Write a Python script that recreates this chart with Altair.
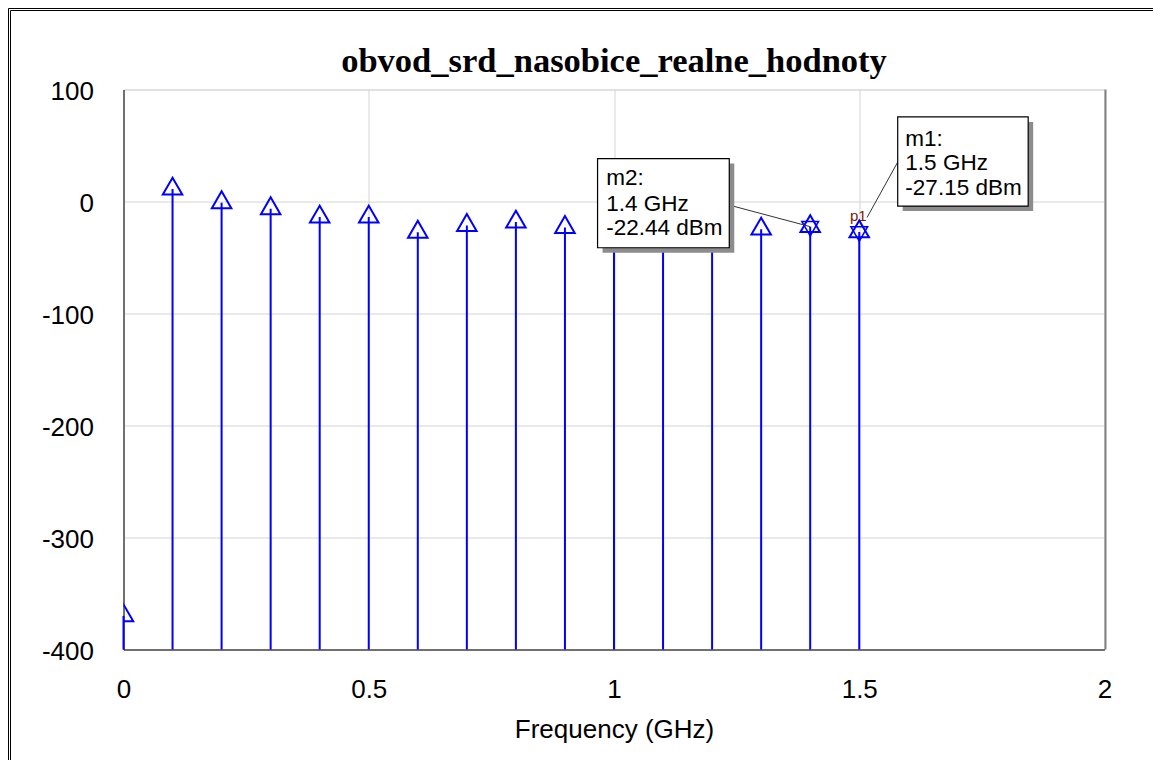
import altair as alt
import pandas as pd

# ---- data ----
freq_ghz = [0.0, 0.1, 0.2, 0.3, 0.4, 0.5, 0.6, 0.7, 0.8, 0.9, 1.0, 1.1, 1.2, 1.3, 1.4, 1.5]
power_dbm = [-370.0, 11.1, -1.1, -6.5, -13.9, -13.9, -27.4, -21.4, -18.4, -23.2,
             -22.0, -24.0, -21.0, -24.7, -22.44, -27.15]

marker_names = ["m1", "m2"]
marker_freq = [1.5, 1.4]
marker_val = [-27.15, -22.44]

x_ticks = [0, 0.5, 1, 1.5, 2]
y_ticks = [100, 0, -100, -200, -300, -400]
x_domain = [0, 2]
y_domain = [-400, 100]

title_text = "obvod_srd_nasobice_realne_hodnoty"
x_title = "Frequency (GHz)"

# annotation box placement (data units)
box_x1 = [1.5784, 0.9665]
box_x2 = [1.8444, 1.2350]
box_top = [75.5, 38.3]
box_bot = [-4.1, -41.3]
# leader line start on box edge (data units)
lead_x = [1.5784, 1.2374]
lead_y = [35.2, -3.5]
lead_end_x = [1.516, 1.4]
lead_end_y = [-14.2, -22.44]
text_x = [1.594, 0.9842]
text_lines_y = [[56.2, 34.3, 12.3], [20.7, -2.6, -24.1]]

W, H = 981, 560
BLUE = "#0000ff"
FONT = "Liberation Sans"

df = pd.DataFrame({"f": freq_ghz, "p": power_dbm})
df["floor"] = y_domain[0]

mk = pd.DataFrame({"name": marker_names, "f": marker_freq, "p": marker_val})

boxes = pd.DataFrame({"x1": box_x1, "x2": box_x2, "yt": box_top, "yb": box_bot,
                      "lx": lead_x, "ly": lead_y, "ex": lead_end_x, "ey": lead_end_y})

rows = []
for i, n in enumerate(marker_names):
    lines = [f"{n}:", f"{marker_freq[i]:g} GHz", f"{marker_val[i]:.2f} dBm"]
    for j, t in enumerate(lines):
        rows.append({"x": text_x[i], "y": text_lines_y[i][j], "t": t})
txt = pd.DataFrame(rows)

xs = alt.Scale(domain=x_domain, nice=False, zero=False)
ys = alt.Scale(domain=y_domain, nice=False, zero=False)

xaxis = alt.Axis(values=x_ticks, labelExpr="'' + datum.value", ticks=False,
                 labelFlush=False,
                 labelFont=FONT, labelFontSize=26, labelColor="black", labelPadding=27,
                 domainColor="black", domainWidth=1, gridColor="#d4d4d4", gridWidth=1,
                 title=x_title, titleFont=FONT, titleFontSize=26, titleFontWeight="normal",
                 titleColor="black", titlePadding=14)
yaxis = alt.Axis(values=y_ticks, labelExpr="'' + datum.value", ticks=False,
                 labelFlush=False,
                 labelFont=FONT, labelFontSize=26, labelColor="black", labelPadding=30,
                 labelOffset=2, domainColor="black", domainWidth=1,
                 gridColor="#d4d4d4", gridWidth=1, title=None)

base = alt.Chart(df)

stems = base.mark_rule(color=BLUE, strokeWidth=2).encode(
    x=alt.X("f:Q", scale=xs, axis=xaxis),
    y=alt.Y("p:Q", scale=ys, axis=yaxis),
    y2="floor:Q",
)

pts = base.mark_point(shape="triangle-up", filled=False, color=BLUE, strokeWidth=2,
                      size=380, yOffset=-3, clip=True, opacity=1).encode(
    x=alt.X("f:Q", scale=xs), y=alt.Y("p:Q", scale=ys))

mkdown = alt.Chart(mk).mark_point(shape="triangle-down", filled=False, color=BLUE,
                                  strokeWidth=1.5, size=280, yOffset=2, opacity=1).encode(
    x=alt.X("f:Q", scale=xs), y=alt.Y("p:Q", scale=ys))

p1 = alt.Chart(mk[mk["name"] == "m1"]).mark_text(text="p1", font=FONT, fontSize=15,
                                                 color="#7a1a00", dy=-16, dx=-1).encode(
    x=alt.X("f:Q", scale=xs), y=alt.Y("p:Q", scale=ys))

leaders = alt.Chart(boxes).mark_rule(color="#333333", strokeWidth=1).encode(
    x=alt.X("lx:Q", scale=xs), y=alt.Y("ly:Q", scale=ys), x2="ex:Q", y2="ey:Q")

shadow = alt.Chart(boxes).mark_rect(color="#8c8c8c", xOffset=5, x2Offset=5,
                                    yOffset=5, y2Offset=5).encode(
    x=alt.X("x1:Q", scale=xs), x2="x2:Q", y=alt.Y("yt:Q", scale=ys), y2="yb:Q")

box = alt.Chart(boxes).mark_rect(fill="white", stroke="black", strokeWidth=1.2).encode(
    x=alt.X("x1:Q", scale=xs), x2="x2:Q", y=alt.Y("yt:Q", scale=ys), y2="yb:Q")

labels = alt.Chart(txt).mark_text(align="left", baseline="middle", font=FONT,
                                  fontSize=22.5, color="black").encode(
    x=alt.X("x:Q", scale=xs), y=alt.Y("y:Q", scale=ys), text="t:N")

one = alt.Chart(pd.DataFrame({"a": [0]}))

title_mark = one.mark_text(text=title_text, font="Liberation Serif", fontSize=34.5,
                           fontWeight="bold", color="black", align="center",
                           baseline="alphabetic").encode(
    x=alt.value(W / 2), y=alt.value(-18))

frame_l1 = one.mark_rule(color="black", strokeWidth=1).encode(
    x=alt.value(-115), y=alt.value(-81), y2=alt.value(H + 120))
frame_l2 = one.mark_rule(color="black", strokeWidth=1).encode(
    x=alt.value(-113), y=alt.value(-79), y2=alt.value(H + 120))
frame_t1 = one.mark_rule(color="black", strokeWidth=1).encode(
    y=alt.value(-81), x=alt.value(-115), x2=alt.value(W + 60))
frame_t2 = one.mark_rule(color="black", strokeWidth=1).encode(
    y=alt.value(-79), x=alt.value(-113), x2=alt.value(W + 60))
right_shade = one.mark_rule(color="#808080", strokeWidth=2).encode(
    x=alt.value(W + 1), y=alt.value(0), y2=alt.value(H))

chart = alt.layer(
    stems, pts, mkdown, p1, leaders, shadow, box, labels, title_mark,
    frame_l1, frame_l2, frame_t1, frame_t2, right_shade
).properties(
    width=W, height=H,
    autosize=alt.AutoSizeParams(type="none"),
    padding={"left": 115.5, "top": 81.5, "right": 48, "bottom": 110},
).configure_view(stroke="black", strokeWidth=1).configure(background="white")

chart.save("out.html", embed_options={"renderer": "svg", "actions": False})
